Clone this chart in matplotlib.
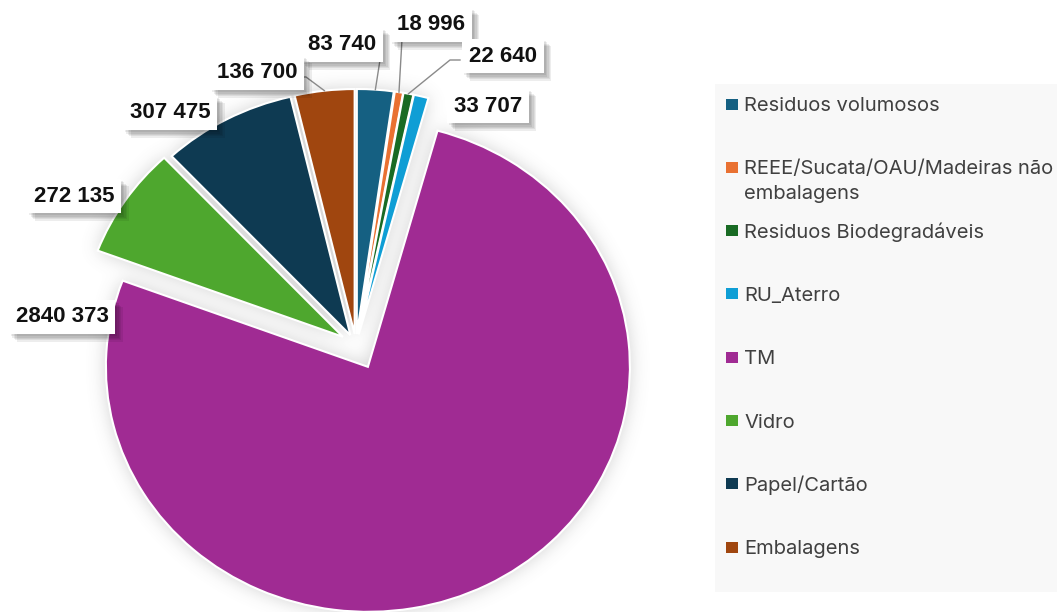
import numpy as np
import matplotlib
matplotlib.use("Agg")
import matplotlib.pyplot as plt
from matplotlib import patheffects as pe
from matplotlib.patches import Rectangle

# ------------------------------------------------------------
# Data: tonnes per waste stream
labels = ["Residuos volumosos",
          "REEE/Sucata/OAU/Madeiras não\nembalagens",
          "Residuos Biodegradáveis",
          "RU_Aterro",
          "TM",
          "Vidro",
          "Papel/Cartão",
          "Embalagens"]
values = [83740, 18996, 22640, 33707, 2840373, 272135, 307475, 136700]
value_text = ["83 740", "18 996", "22 640", "33 707",
              "2840 373", "272 135", "307 475", "136 700"]
colors = ["#156082", "#E97132", "#196B24", "#0F9ED5",
          "#A02B93", "#4EA72E", "#0E3A52", "#A0460F"]
explode = [0.045, 0.045, 0.045, 0.045, 0.10, 0.06, 0.045, 0.045]

# ------------------------------------------------------------
# Layout (pixels)
W, H = 1057, 612
RX, RY = 262, 245          # pie is drawn slightly wider than tall
CX, CY = 356, 345

fig = plt.figure(figsize=(W / 100, H / 100), dpi=100)
fig.patch.set_facecolor("white")

ax_bg = fig.add_axes([0, 0, 1, 1], zorder=0)
ax_bg.set_xlim(0, W)
ax_bg.set_ylim(H, 0)
ax_bg.axis("off")

ax = fig.add_axes([0, 0, 1, 1], zorder=1)
ax.patch.set_visible(False)
wedges, _ = ax.pie(values, colors=colors, explode=explode, startangle=90,
                   counterclock=False, radius=1,
                   center=(CX / RX, (H - CY) / RY),
                   wedgeprops=dict(edgecolor="white", linewidth=1.5))
ax.set_aspect("auto")
ax.set_xlim(0, W / RX)
ax.set_ylim(0, H / RY)
ax.axis("off")

ax_top = fig.add_axes([0, 0, 1, 1], zorder=2)
ax_top.patch.set_visible(False)
ax_top.set_xlim(0, W)
ax_top.set_ylim(H, 0)
ax_top.axis("off")


def to_px(x, y):
    dx, dy = ax.transData.transform((x, y))
    return dx, H - dy


# ------------------------------------------------------------
# Soft shadow around the pie
gx, gy = np.meshgrid(np.arange(W) + 0.5, H - (np.arange(H) + 0.5))
pts = np.column_stack([gx.ravel(), gy.ravel()])
mask = np.zeros(W * H, dtype=bool)
for w in wedges:
    path = w.get_transform().transform_path(w.get_path())
    mask |= path.contains_points(pts)
mask = mask.reshape(H, W).astype(float)

sigma = 9
k = np.arange(-3 * sigma, 3 * sigma + 1)
kernel = np.exp(-0.5 * (k / sigma) ** 2)
kernel /= kernel.sum()
blur = np.apply_along_axis(lambda r: np.convolve(r, kernel, mode="same"), 1, mask)
blur = np.apply_along_axis(lambda c: np.convolve(c, kernel, mode="same"), 0, blur)

shadow = np.zeros((H, W, 4))
shadow[..., :3] = 0.45
shadow[..., 3] = 0.34 * blur
ax_bg.imshow(shadow, extent=(0, W, H, 0), interpolation="bilinear", zorder=1)

# ------------------------------------------------------------
# Data labels in white boxes with a soft drop shadow
label_pos = [(342, 45), (431, 25), (503, 56), (488, 106),
             (62, 317), (74, 196), (170, 113), (257, 73)]
box_fx = [pe.SimplePatchShadow(offset=(o, -o), shadow_rgbFace="k", alpha=0.07)
          for o in (1.5, 2.5, 3.5, 4.5, 5.5)] + [pe.Normal()]
for txt, (x, y) in zip(value_text, label_pos):
    t = ax_top.text(x, y, txt, ha="center", va="center", fontsize=16,
                    fontweight="bold", family="Liberation Sans", color="#111111",
                    bbox=dict(boxstyle="square,pad=0.3", facecolor="white",
                              edgecolor="none"), zorder=5)
    t.get_bbox_patch().set_path_effects(box_fx)

# Leader lines from the label boxes to the outer arc of the thin slices
leader_start = {0: [(380, 60)],
                1: [(402, 39)],
                2: [(460, 60), (450, 60)],
                7: [(301, 77), (306, 77)]}
for i, starts in leader_start.items():
    w = wedges[i]
    mid = np.deg2rad(0.5 * (w.theta1 + w.theta2))
    end = to_px(w.center[0] + w.r * np.cos(mid), w.center[1] + w.r * np.sin(mid))
    xs = [p[0] for p in starts] + [end[0]]
    ys = [p[1] for p in starts] + [end[1]]
    ax_top.plot(xs, ys, color="#8a8a8a", lw=1, zorder=4)

# ------------------------------------------------------------
# Legend
ax_bg.add_patch(Rectangle((715, 84), W - 715, 508, facecolor="#f8f8f8",
                          edgecolor="none", zorder=0))
for i, (lab, c) in enumerate(zip(labels, colors)):
    y = 104 + 63.3 * i
    ax_top.add_patch(Rectangle((726, y - 5.5), 12, 11, facecolor=c,
                               edgecolor="none", zorder=5))
    for j, line in enumerate(lab.split("\n")):
        ax_top.text(744, y + 7 + 25 * j, line, ha="left", va="baseline",
                    fontsize=14.5, family="Inter", color="#404040", zorder=5)

fig.savefig("out.png", dpi=100, facecolor="white")
